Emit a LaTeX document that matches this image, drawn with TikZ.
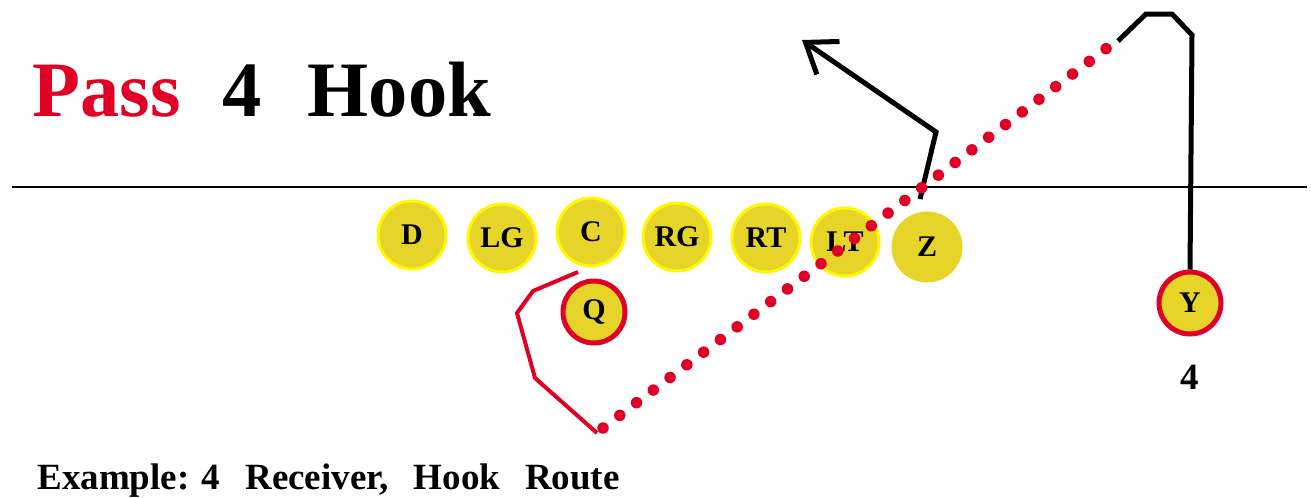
\documentclass[tikz,border=0pt]{standalone}
\usepackage{fontspec}
\setmainfont{Liberation Serif}
\usetikzlibrary{arrows.meta,positioning}
\definecolor{passred}{RGB}{224,0,38}
\definecolor{fieldyellow}{RGB}{230,213,40}
\definecolor{rimyellow}{RGB}{255,248,0}
\tikzset{
  player/.style={
    circle,
    fill=fieldyellow,
    draw=rimyellow,
    line width=0.6mm,
    minimum size=13.6mm,
    inner sep=0pt,
    font=\fontsize{6mm}{6mm}\selectfont\bfseries
  },
  openplayer/.style={
    player,
    draw=none,
    minimum size=14.2mm
  },
  keyplayer/.style={
    player,
    draw=passred,
    line width=1mm,
    minimum size=12.4mm
  },
  scrimmage/.style={
    line width=0.4mm,
    draw=black
  },
  route/.style={
    line width=1mm,
    draw=black
  },
  qroute/.style={
    line width=0.8mm,
    draw=passred
  },
  passline/.style={
    line width=2.3mm,
    draw=passred,
    line cap=round,
    dash pattern=on 0mm off 4.2mm
  },
  title/.style={
    inner sep=0pt,
    font=\fontsize{15.7mm}{15.7mm}\selectfont\bfseries
  },
  caption/.style={
    inner sep=0pt,
    font=\fontsize{7.4mm}{7.4mm}\selectfont\bfseries
  }
}

\begin{document}
\begin{tikzpicture}[x=0.2mm, y=-0.2mm]
  \useasboundingbox (0,0) rectangle (1311,497);

  \node[title, anchor=base west] (title) at (32,116) {\textcolor{passred}{Pass}\hspace{8.4mm}4\hspace{9.2mm}Hook};
  \node[caption, anchor=base west] (example) at (37,489) {Example: 4\hspace{5mm}Receiver,\hspace{5mm}Hook\hspace{5mm}Route};

  % line of scrimmage
  \coordinate (loswest) at (12,187);
  \coordinate (loseast) at (1307,187);
  \draw[scrimmage] (loswest) -- (loseast);

  % players
  \node[player] (D) at (412,235) {D};
  \node[player] (LG) at (502,238) {LG};
  \node[player] (C) at (591,232) {C};
  \node[player] (RG) at (677,237) {RG};
  \node[player] (RT) at (766,238) {RT};
  \node[player] (LT) at (845,242) {LT};
  \node[openplayer] (Z) at (927,247) {Z};
  \node[keyplayer] (Q) at (594,312) {Q};
  \node[keyplayer] (Y) at (1190,303) {Y};
  \node[caption] (ynum) at (1190,377) {4};

  % Z route
  \coordinate (zstart) at (920,199);
  \coordinate (zbreak) at (936,132);
  \coordinate (ztip) at (802,40);
  \draw[route, -{Straight Barb[length=5.5mm, width=8mm]}] (zstart) -- (zbreak) -- (ztip);

  % Y hook route
  \coordinate (ystem) at (1192,35);
  \coordinate (ytopright) at (1172,14);
  \coordinate (ytopleft) at (1146,14);
  \coordinate (yhook) at (1118,41);
  \draw[route] (Y.north) -- (ystem) -- (ytopright) -- (ytopleft) -- (yhook);

  % Q drop back
  \coordinate (qstart) at (578,272);
  \coordinate (qa) at (533,291);
  \coordinate (qb) at (517,313);
  \coordinate (qc) at (535,378);
  \coordinate (qend) at (597,433);
  \draw[qroute] (qstart) -- (qa) -- (qb) -- (qc) -- (qend);

  % pass
  \coordinate (passfrom) at (603,428);
  \coordinate (passto) at (1107,48);
  \draw[passline] (passfrom) -- (passto);
\end{tikzpicture}
\end{document}
